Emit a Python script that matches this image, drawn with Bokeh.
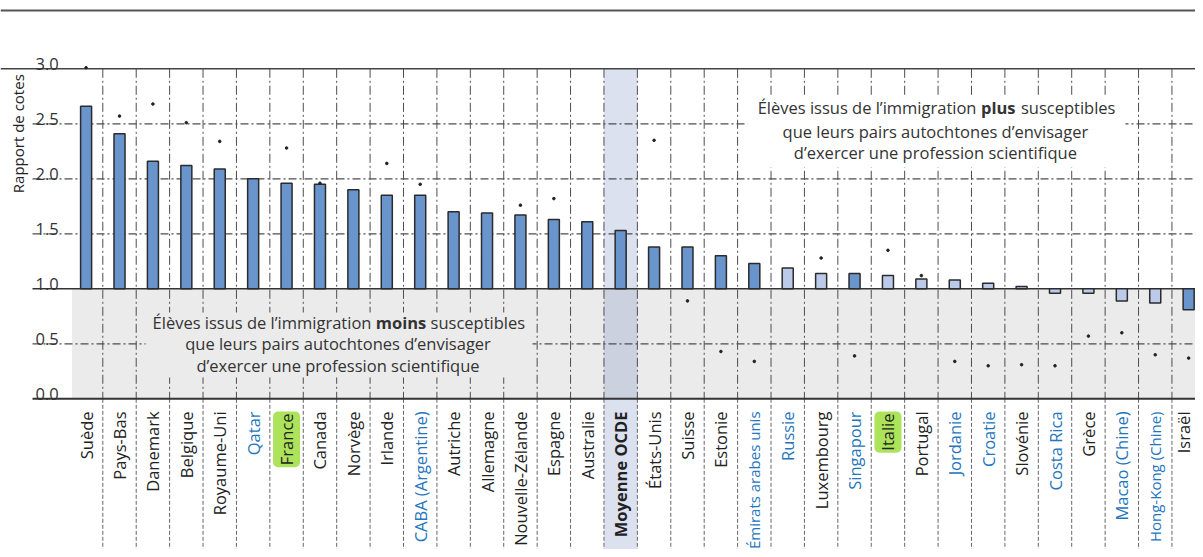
import numpy as np
from bokeh.plotting import figure
from bokeh.models import Range1d, ColumnDataSource
from bokeh.core.properties import value
from bokeh.embed import file_html
from bokeh.resources import INLINE

# ---------------- data ----------------
countries = ["Suède", "Pays-Bas", "Danemark", "Belgique", "Royaume-Uni", "Qatar", "France",
             "Canada", "Norvège", "Irlande", "CABA (Argentine)", "Autriche", "Allemagne",
             "Nouvelle-Zélande", "Espagne", "Australie", "Moyenne OCDE", "États-Unis", "Suisse",
             "Estonie", "Émirats arabes unis", "Russie", "Luxembourg", "Singapour", "Italie",
             "Portugal", "Jordanie", "Croatie", "Slovénie", "Costa Rica", "Grèce",
             "Macao (Chine)", "Hong-Kong (Chine)", "Israël"]
odds_ratio = [2.66, 2.41, 2.16, 2.12, 2.09, 2.00, 1.96, 1.95, 1.90, 1.85, 1.85, 1.70, 1.69,
              1.67, 1.63, 1.61, 1.53, 1.38, 1.38, 1.30, 1.23, 1.19, 1.14, 1.14, 1.12,
              1.09, 1.08, 1.05, 1.02, 0.96, 0.96, 0.89, 0.87, 0.81]
dot_value = [3.01, 2.57, 2.68, 2.51, 2.34, np.nan, 2.28, 1.96, np.nan, 2.14, 1.95, np.nan, np.nan,
             1.76, 1.82, np.nan, np.nan, 2.35, 0.89, 0.43, 0.34, np.nan, 1.28, 0.39, 1.35,
             1.12, 0.34, 0.30, 0.31, 0.30, 0.57, 0.60, 0.40, 0.37]
significant = [True] * 21 + [False, False, True, False, False, False, False, False,
                             False, False, False, False, True]
partner = ["Qatar", "CABA (Argentine)", "Émirats arabes unis", "Russie", "Singapour",
           "Jordanie", "Croatie", "Costa Rica", "Macao (Chine)", "Hong-Kong (Chine)"]
highlighted = ["France", "Italie"]
average_label = "Moyenne OCDE"
ytick_values = [0.0, 0.5, 1.0, 1.5, 2.0, 2.5, 3.0]
ytick_labels = ["0.0", "0.5", "1.0", "1.5", "2.0", "2.5", "3.0"]
y_title = "Rapport de cotes"
note_plus = ["Élèves issus de l’immigration", "plus", "susceptibles",
             "que leurs pairs autochtones d’envisager", "d’exercer une profession scientifique"]
note_moins = ["Élèves issus de l’immigration", "moins", "susceptibles",
              "que leurs pairs autochtones d’envisager", "d’exercer une profession scientifique"]

# ---------------- styling / layout constants ----------------
FONT = value("Open Sans")
DARK = "#6a94cc"
LIGHT = "#bccaea"
BLUE_TXT = "#2575bd"
BLACK_TXT = "#222222"
GRID = "#4d4d4d"
X0, X1 = -2.562, 33.205
Y0, Y1 = -1.37, 3.621
GRID_LEFT = -1.604
N = len(countries)
xs = np.arange(N)

p = figure(width=1195, height=549, x_range=Range1d(X0, X1), y_range=Range1d(Y0, Y1),
           output_backend="svg", toolbar_location=None, min_border=0,
           outline_line_color=None, background_fill_color="white")
p.axis.visible = False
p.grid.visible = False

# gray "less likely" band
p.quad(left=[-0.42], right=[X1], bottom=[0.0], top=[1.0], fill_color="#ebebeb", line_color=None)

# OECD average column shading
avg_i = countries.index(average_label)
p.quad(left=[avg_i - 0.5], right=[avg_i + 0.5], bottom=[Y0], top=[3.0],
       fill_color="#5069b4", fill_alpha=0.2, line_color=None)

# vertical separators
bounds = xs[1:] - 0.5
p.segment(x0=bounds, y0=[3.0] * len(bounds), x1=bounds, y1=[0.0] * len(bounds),
          line_color=GRID, line_width=1, line_dash="9 3 2 3")
p.segment(x0=bounds, y0=[0.0] * len(bounds), x1=bounds, y1=[Y0] * len(bounds),
          line_color="#666666", line_width=1, line_dash="4 2")

# horizontal grid lines
dashed = [v for v in ytick_values if v not in (0.0, 1.0, 3.0)]
p.segment(x0=[GRID_LEFT] * len(dashed), y0=dashed, x1=[X1] * len(dashed), y1=dashed,
          line_color=GRID, line_width=1.2, line_dash="8 3 2 3")
p.segment(x0=[GRID_LEFT, GRID_LEFT], y0=[0.0, 1.0], x1=[X1, X1], y1=[0.0, 1.0],
          line_color="#333333", line_width=[2, 1.5])
p.segment(x0=[X0], y0=[3.0], x1=[X1], y1=[3.0], line_color="#444444", line_width=1.5)
p.segment(x0=[X0], y0=[3.53], x1=[X1], y1=[3.53], line_color="#555555", line_width=2)

# annotation boxes (hide grid behind text)
p.quad(left=[19.79], right=[31.11], bottom=[2.103], top=[2.757], fill_color="white", line_color=None)
p.quad(left=[1.78], right=[13.36], bottom=[0.194], top=[0.785], fill_color="#ebebeb", line_color=None)

# bars
src = ColumnDataSource(dict(x=xs, top=odds_ratio,
                            color=[DARK if s else LIGHT for s in significant]))
p.vbar(x="x", top="top", bottom=1.0, width=0.33, source=src, fill_color="color",
       line_color="#2b2b2b", line_width=1.5)

# dots
p.scatter(x=xs, y=dot_value, size=2.6, color="#222222")

# country labels (long labels slightly smaller so they fit the page)
lab_y = -0.115
def lab_size(c):
    return "15px" if len(c) > 16 else "16.5px"

normal = [i for i, c in enumerate(countries) if c not in highlighted and c != average_label]
lab_src = ColumnDataSource(dict(
    x=[xs[i] for i in normal], y=[lab_y] * len(normal), text=[countries[i] for i in normal],
    color=[BLUE_TXT if countries[i] in partner else BLACK_TXT for i in normal],
    size=[lab_size(countries[i]) for i in normal],
    xoff=[-5 if i == N - 1 else 0 for i in normal]))
p.text(x="x", y="y", text="text", text_color="color", text_font_size="size", source=lab_src,
       x_offset="xoff", angle=np.pi / 2, text_align="right", text_baseline="middle",
       text_font=FONT)
hi = [countries.index(c) for c in highlighted]
p.text(x=[xs[i] for i in hi], y=[lab_y] * len(hi), text=[countries[i] for i in hi],
       text_color=BLACK_TXT, angle=np.pi / 2, text_align="right", text_baseline="middle",
       text_font=FONT, text_font_size="16.5px", background_fill_color="#acE35a",
       border_radius=5, padding=2)
p.text(x=[avg_i], y=[lab_y], text=[average_label], text_color=BLACK_TXT, angle=np.pi / 2,
       text_align="right", text_baseline="middle", text_font=FONT, text_font_size="16.5px",
       text_font_style="bold")

# y tick labels & title
p.text(x=[-1.515] * len(ytick_values), y=[v + 0.045 for v in ytick_values], text=ytick_labels,
       text_color="#333333", text_align="left", text_baseline="alphabetic",
       text_font=FONT, text_font_size="16.5px")
p.text(x=[-2.053], y=[2.41], text=[y_title], angle=np.pi / 2, text_align="center",
       text_baseline="middle", text_color="#222222", text_font=FONT, text_font_size="15px")

# annotations
NOTE_SIZE = "16.5px"
def note(lines, cx, ys, right_of_left, bold_left, right_start):
    p.text(x=[right_of_left], y=[ys[0]], text=[lines[0]], text_align="right", text_baseline="middle",
           text_color="#333333", text_font=FONT, text_font_size=NOTE_SIZE)
    p.text(x=[bold_left], y=[ys[0]], text=[lines[1]], text_align="left", text_baseline="middle",
           text_color="#333333", text_font=FONT, text_font_size=NOTE_SIZE, text_font_style="bold")
    p.text(x=[right_start], y=[ys[0]], text=[lines[2]], text_align="left", text_baseline="middle",
           text_color="#333333", text_font=FONT, text_font_size=NOTE_SIZE)
    p.text(x=[cx, cx], y=ys[1:], text=lines[3:], text_align="center", text_baseline="middle",
           text_color="#333333", text_font=FONT, text_font_size=NOTE_SIZE)

note(note_plus, 25.42, [2.648, 2.43, 2.239], 26.65, 26.785, 27.98)
note(note_moins, 7.54, [0.694, 0.503, 0.303], 8.54, 8.671, 10.31)

open("out.html", "w").write(file_html(p, INLINE))
